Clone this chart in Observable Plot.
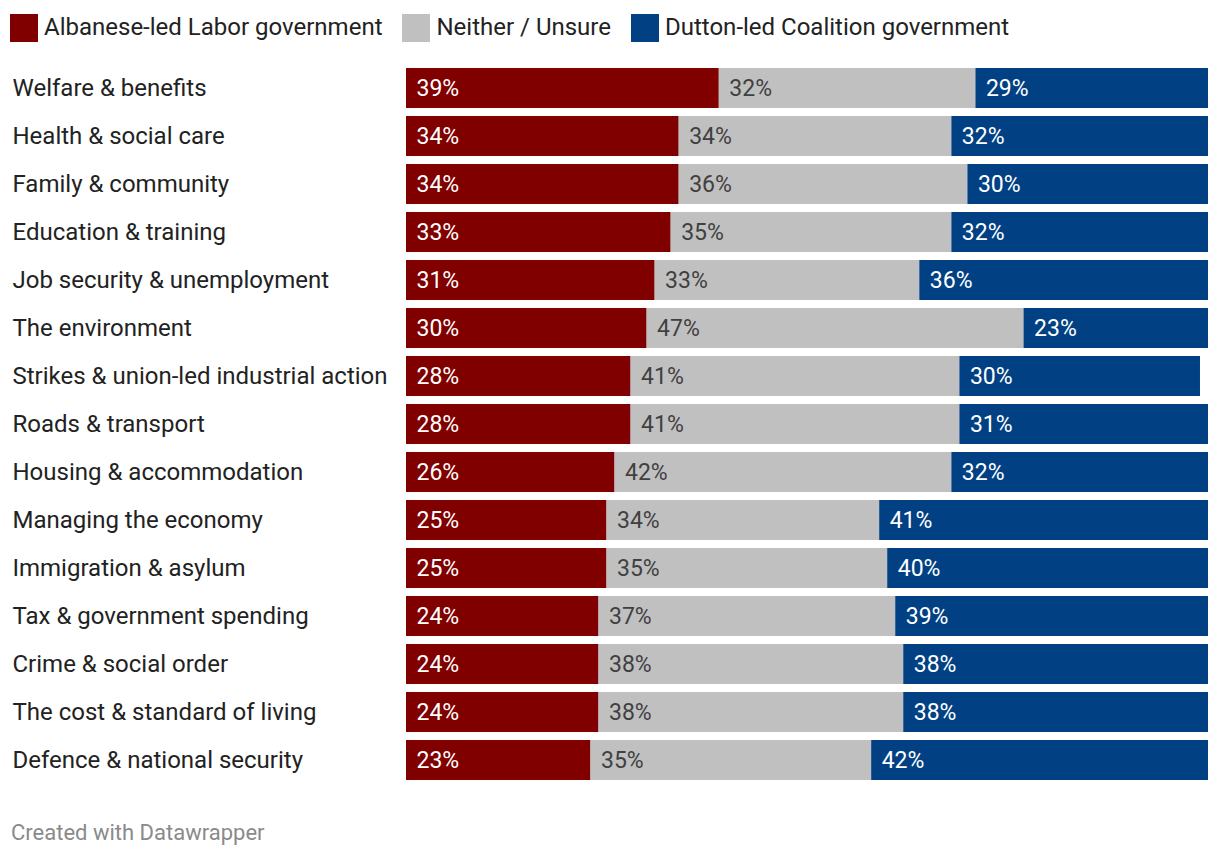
<!DOCTYPE html>
<html>
<head>
<meta charset="utf-8">
<script src="https://cdn.jsdelivr.net/npm/d3@7"></script>
<script src="https://cdn.jsdelivr.net/npm/@observablehq/plot@0.6"></script>
<style>
  html, body { margin: 0; padding: 0; background: #fff; }
  body { width: 1220px; height: 858px; position: relative; font-family: Roboto, sans-serif; overflow: hidden; }
  #legend { position: absolute; left: 10px; top: 14px; display: flex; align-items: center; height: 28px; font-size: 24px; color: #222; white-space: nowrap; }
  .item { display: flex; align-items: center; margin-right: 20px; }
  .item span { position: relative; top: -1px; }
  .sw { width: 28px; height: 28px; margin-right: 6px; }
  #chart { position: absolute; left: 0; top: 60px; }
  #caption { position: absolute; left: 11px; top: 820px; font-size: 22px; color: #8a8a8a; }
</style>
</head>
<body>
<div id="legend"></div>
<div id="chart"></div>
<div id="caption">Created with Datawrapper</div>
<script>
const categories = [
  "Welfare & benefits",
  "Health & social care",
  "Family & community",
  "Education & training",
  "Job security & unemployment",
  "The environment",
  "Strikes & union-led industrial action",
  "Roads & transport",
  "Housing & accommodation",
  "Managing the economy",
  "Immigration & asylum",
  "Tax & government spending",
  "Crime & social order",
  "The cost & standard of living",
  "Defence & national security"
];
const series = ["Albanese-led Labor government", "Neither / Unsure", "Dutton-led Coalition government"];
const labor     = [39, 34, 34, 33, 31, 30, 28, 28, 26, 25, 25, 24, 24, 24, 23];
const neither   = [32, 34, 36, 35, 33, 47, 41, 41, 42, 34, 35, 37, 38, 38, 35];
const coalition = [29, 32, 30, 32, 36, 23, 30, 31, 32, 41, 40, 39, 38, 38, 42];
const colors = ["#800000", "#c0c0c0", "#014183"];
const textColors = ["#ffffff", "#404040", "#ffffff"];

const values = [labor, neither, coalition];
const data = [];
series.forEach((s, si) => {
  categories.forEach((c, ci) => {
    data.push({cat: c, series: s, value: values[si][ci], tc: textColors[si]});
  });
});

// legend
const leg = document.getElementById("legend");
series.forEach((s, i) => {
  const it = document.createElement("div");
  it.className = "item";
  const sw = document.createElement("div");
  sw.className = "sw";
  sw.style.background = colors[i];
  const t = document.createElement("span");
  t.textContent = s;
  it.appendChild(sw);
  it.appendChild(t);
  leg.appendChild(it);
});

const chart = Plot.plot({
  width: 1220,
  height: 728,
  marginLeft: 406,
  marginRight: 12,
  marginTop: 0,
  marginBottom: 0,
  style: {fontFamily: "Roboto, sans-serif", background: "#fff"},
  x: {domain: [0, 100], axis: null},
  y: {domain: categories, axis: null, range: [4, 724], paddingInner: 1 / 6, paddingOuter: 1 / 12, round: false},
  color: {domain: series, range: colors},
  marks: [
    Plot.barX(data, Plot.stackX({x: "value", y: "cat", fill: "series", z: "series", order: series})),
    Plot.text(data, Plot.stackX1({
      x: "value", y: "cat", z: "series", order: series,
      text: d => d.value + "%",
      fill: "tc",
      textAnchor: "start",
      dx: 10,
      fontSize: 23
    })),
    Plot.text(categories, {
      y: d => d,
      text: d => d,
      frameAnchor: "left",
      textAnchor: "start",
      dx: -394,
      fontSize: 24,
      fill: "#222"
    })
  ]
});
document.getElementById("chart").appendChild(chart);
</script>
</body>
</html>
